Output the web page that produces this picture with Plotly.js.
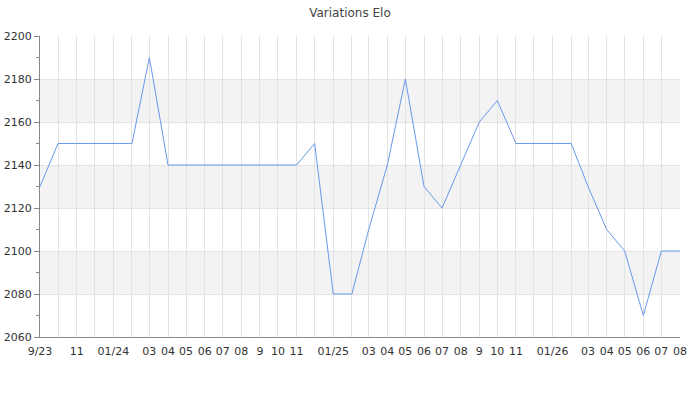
<!DOCTYPE html>
<html>
<head>
<meta charset="utf-8">
<script src="https://cdn.plot.ly/plotly-3.0.1.min.js"></script>
<style>html,body{margin:0;padding:0;background:#fff}#chart{width:700px;height:400px}</style>
</head>
<body>
<div id="chart"></div>
<script>
const months = [
  "2023-09-01","2023-10-01","2023-11-01","2023-12-01",
  "2024-01-01","2024-02-01","2024-03-01","2024-04-01","2024-05-01","2024-06-01",
  "2024-07-01","2024-08-01","2024-09-01","2024-10-01","2024-11-01","2024-12-01",
  "2025-01-01","2025-02-01","2025-03-01","2025-04-01","2025-05-01","2025-06-01",
  "2025-07-01","2025-08-01","2025-09-01","2025-10-01","2025-11-01","2025-12-01",
  "2026-01-01","2026-02-01","2026-03-01","2026-04-01","2026-05-01","2026-06-01",
  "2026-07-01","2026-08-01"
];
const elo = [
  2130, 2150, 2150, 2150,
  2150, 2150, 2190, 2140, 2140, 2140,
  2140, 2140, 2140, 2140, 2140, 2150,
  2080, 2080, 2110, 2140, 2180, 2130,
  2120, 2140, 2160, 2170, 2150, 2150,
  2150, 2150, 2130, 2110, 2100, 2070,
  2100, 2100
];
const tickLabels = [
  "9/23","","11","",
  "01/24","","03","04","05","06",
  "07","08","9","10","11","",
  "01/25","","03","04","05","06",
  "07","08","9","10","11","",
  "01/26","","03","04","05","06",
  "07","08"
];
const yTicks = [2060, 2080, 2100, 2120, 2140, 2160, 2180, 2200];
const bandPairs = [[2080, 2100], [2120, 2140], [2160, 2180]];

const shapes = bandPairs.map(p => ({
  type: 'rect', xref: 'paper', yref: 'y', x0: 0, x1: 1, y0: p[0], y1: p[1],
  fillcolor: '#f3f3f3', line: {width: 0}, layer: 'below'
}));

const font = {family: 'DejaVu Sans, sans-serif', size: 11, color: '#333'};

Plotly.newPlot('chart', [{
  x: months, y: elo, type: 'scatter', mode: 'lines',
  line: {color: '#6a98ea', width: 1}, hoverinfo: 'x+y'
}], {
  width: 700, height: 400,
  margin: {l: 40, r: 20, t: 36, b: 63},
  paper_bgcolor: '#fff', plot_bgcolor: 'rgba(0,0,0,0)',
  title: {text: 'Variations Elo', x: 0.5, xanchor: 'center', y: 0.978, yanchor: 'top',
          font: {family: 'DejaVu Sans, sans-serif', size: 12, color: '#444'}},
  font: font,
  showlegend: false,
  shapes: shapes,
  xaxis: {
    type: 'date', range: [months[0], months[months.length - 1]],
    tickmode: 'array', tickvals: months, ticktext: tickLabels,
    showgrid: true, gridcolor: '#e3e3e3', gridwidth: 1,
    showline: true, linecolor: '#888', linewidth: 1,
    ticks: '', ticklabelstandoff: 4, tickfont: font, zeroline: false, fixedrange: true
  },
  yaxis: {
    range: [yTicks[0], yTicks[yTicks.length - 1]],
    tickmode: 'array', tickvals: yTicks,
    showgrid: true, gridcolor: '#e3e3e3', gridwidth: 1,
    showline: true, linecolor: '#888', linewidth: 1,
    ticks: 'outside', ticklen: 5, tickcolor: '#888', tickfont: font,
    minor: {dtick: 10, ticks: 'outside', ticklen: 3, tickcolor: '#888', showgrid: false},
    zeroline: false, fixedrange: true
  }
}, {displayModeBar: false, staticPlot: true});
</script>
</body>
</html>
